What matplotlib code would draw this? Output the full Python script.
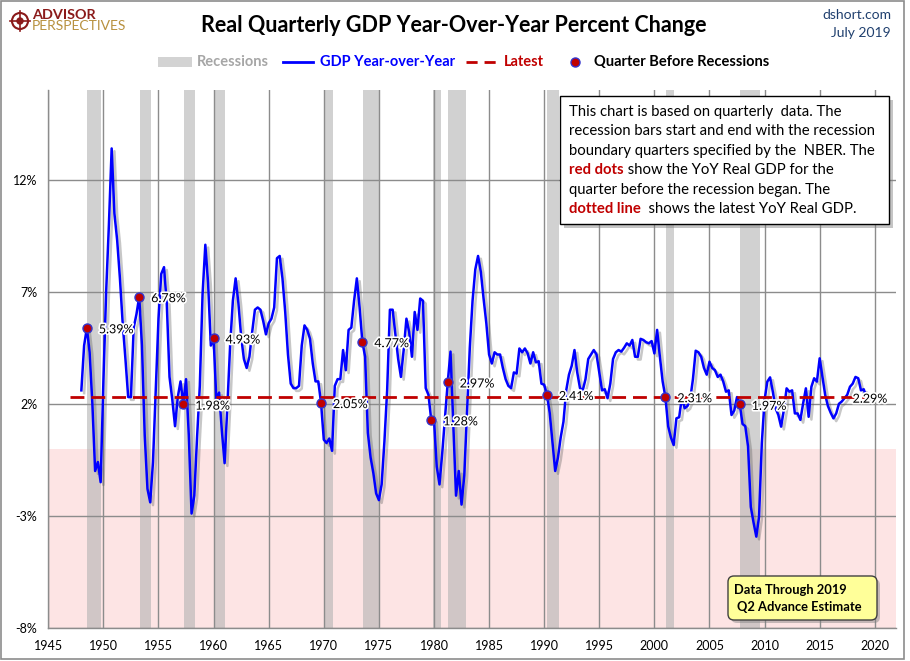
import matplotlib
matplotlib.use("Agg")
import matplotlib.pyplot as plt
import matplotlib.patheffects as pe
from matplotlib.patches import Rectangle, FancyBboxPatch, Circle

plt.rcParams['font.family'] = ['Lato', 'DejaVu Sans']

# ---------------- data ----------------
first_year = 1948
gdp_yoy = [
    2.6, 4.6, 5.39, 4.3,      # 1948
    2.0, -1.0, -0.6, -1.5,    # 1949
    3.0, 7.0, 10.0, 13.4,     # 1950
    10.5, 9.3, 7.6, 5.6,      # 1951
    4.0, 2.3, 2.3, 5.4,       # 1952
    6.0, 6.78, 4.6, 0.6,      # 1953
    -1.8, -2.4, -0.6, 2.6,    # 1954
    5.8, 7.8, 8.1, 6.5,       # 1955
    3.2, 2.2, 1.0, 2.3,       # 1956
    3.0, 1.98, 3.1, 0.6,      # 1957
    -2.9, -2.1, 0.5, 2.8,     # 1958
    6.9, 9.1, 7.4, 4.6,       # 1959
    4.93, 2.2, 2.5, 0.8,      # 1960
    -0.65, 1.9, 4.6, 6.6,     # 1961
    7.6, 6.5, 5.0, 4.0,       # 1962
    3.6, 4.1, 5.2, 6.2,       # 1963
    6.3, 6.2, 5.7, 5.1,       # 1964
    5.6, 5.8, 6.3, 8.5,       # 1965
    8.6, 7.6, 6.1, 4.2,       # 1966
    2.9, 2.7, 2.7, 2.8,       # 1967
    4.6, 5.5, 5.3, 4.9,       # 1968
    3.8, 3.0, 3.0, 2.05,      # 1969
    0.4, 0.25, 0.45, -0.1,    # 1970
    2.8, 3.1, 3.1, 4.4,       # 1971
    3.5, 5.3, 5.4, 6.6,       # 1972
    7.6, 6.3, 4.77, 4.1,      # 1973
    0.7, -0.4, -1.1, -2.0,    # 1974
    -2.3, -1.6, 0.3, 2.6,     # 1975
    6.2, 6.2, 5.1, 4.0,       # 1976
    3.2, 4.4, 5.8, 5.2,       # 1977
    4.1, 6.1, 5.3, 6.7,       # 1978
    6.6, 2.7, 2.4, 1.28,      # 1979
    1.3, -0.8, -1.6, -0.2,    # 1980
    1.4, 2.97, 4.33, 1.1,     # 1981
    -2.1, -1.0, -2.5, -1.2,   # 1982
    1.6, 4.5, 6.6, 8.0,       # 1983
    8.6, 7.9, 6.7, 5.6,       # 1984
    4.2, 3.8, 4.3, 4.2,       # 1985
    4.2, 3.6, 3.1, 2.8,       # 1986
    2.7, 3.4, 3.35, 4.47,     # 1987
    4.3, 4.47, 4.25, 3.8,     # 1988
    4.3, 3.85, 3.9, 2.9,      # 1989
    2.85, 2.41, 1.6, 0.3,     # 1990
    -1.0, -0.4, 0.5, 1.2,     # 1991
    2.6, 3.3, 3.7, 4.4,       # 1992
    3.4, 2.7, 2.6, 3.1,       # 1993
    4.0, 4.2, 4.4, 4.2,       # 1994
    3.4, 2.6, 2.65, 2.25,     # 1995
    2.9, 4.0, 4.3, 4.4,       # 1996
    4.33, 4.5, 4.7, 4.6,      # 1997
    4.85, 4.1, 4.1, 4.9,      # 1998
    4.85, 4.75, 4.7, 4.8,     # 1999
    4.25, 5.3, 4.1, 3.0,      # 2000
    2.31, 1.0, 0.5, 0.16,     # 2001
    1.35, 1.4, 2.3, 1.8,      # 2002
    1.9, 2.2, 3.1, 4.37,      # 2003
    4.3, 4.1, 3.6, 3.3,       # 2004
    3.88, 3.6, 3.5, 3.2,      # 2005
    3.3, 2.99, 2.54, 2.6,     # 2006
    1.5, 1.7, 2.3, 1.97,      # 2007
    1.1, 1.0, 0.1, -2.6,      # 2008
    -3.3, -3.93, -3.04, 0.24, # 2009
    2.17, 2.99, 3.18, 2.54,   # 2010
    1.8, 1.5, 0.98, 1.72,     # 2011
    2.69, 2.54, 2.6, 1.57,    # 2012
    1.57, 1.28, 2.02, 2.69,   # 2013
    1.42, 2.76, 3.14, 2.99,   # 2014
    4.03, 3.2, 2.4, 1.9,      # 2015
    1.6, 1.35, 1.57, 2.0,     # 2016
    2.1, 2.25, 2.4, 2.76,     # 2017
    2.9, 3.2, 3.14, 2.6,      # 2018
    2.65, 2.29,               # 2019
]
quarter_labels = [f"{first_year + i // 4}Q{i % 4 + 1}" for i in range(len(gdp_yoy))]

dot_quarters = ['1948Q3', '1953Q2', '1957Q2', '1960Q1', '1969Q4', '1973Q3',
                '1979Q4', '1981Q2', '1990Q2', '2001Q1', '2007Q4']
dot_values = [5.39, 6.78, 1.98, 4.93, 2.05, 4.77, 1.28, 2.97, 2.41, 2.31, 1.97]

rec_start = [1948.52, 1953.34, 1957.34, 1960.04, 1970.0, 1973.6, 1979.94, 1981.3, 1990.3, 2001.03, 2007.78]
rec_end = [1949.79, 1954.34, 1958.34, 1961.06, 1970.85, 1975.0, 1980.67, 1982.93, 1991.3, 2001.75, 2009.55]

latest_value = 2.29
latest_start = 1947.0

y_ticks = [-8, -3, 2, 7, 12]
y_tick_labels = ['-8%', '-3%', '2%', '7%', '12%']
x_ticks = list(range(1945, 2021, 5))
x_tick_labels = [str(v) for v in x_ticks]


def q2t(q):
    y, k = q.split('Q')
    return int(y) + (int(k) - 1) / 4.0


t = [q2t(q) for q in quarter_labels]
dot_t = [q2t(q) for q in dot_quarters]

# ---------------- figure ----------------
W, H = 910, 661
fig = plt.figure(figsize=(W / 100, H / 100), dpi=100)
fig.patch.set_facecolor('white')

L, R, T, B = 48.3, 895.7, 90.2, 627.8
ax = fig.add_axes([L / W, (H - B) / H, (R - L) / W, (B - T) / H])
ax.set_xlim(1945, 2021.9)
ax.set_ylim(-8, 16)
ax.set_facecolor('white')

ax.axhspan(-8, 0, color='#FDE4E4', lw=0, zorder=0.5)
for s, e in zip(rec_start, rec_end):
    ax.axvspan(s, e, color=(0.70, 0.70, 0.70), alpha=0.6, lw=0, zorder=1)

ax.set_axisbelow('line')
ax.grid(True, color='#8C8C8C', lw=1)
ax.set_yticks(y_ticks)
ax.set_yticklabels(y_tick_labels)
ax.set_xticks(x_ticks)
ax.set_xticklabels(x_tick_labels)
ax.tick_params(length=0, labelsize=9, colors='black', pad=8)
ax.tick_params(axis='x', pad=9)
for sp in ['top', 'right']:
    ax.spines[sp].set_visible(False)
for sp in ['left', 'bottom']:
    ax.spines[sp].set_color('#8C8C8C')
    ax.spines[sp].set_linewidth(1)

ax.plot(t, gdp_yoy, color='#0000FF', lw=1.8, zorder=3,
        path_effects=[pe.SimpleLineShadow(offset=(2, -2), shadow_color='#606060', alpha=0.35),
                      pe.Normal()])

ax.plot([latest_start, t[-1]], [latest_value, latest_value], color='#C00000', lw=2.0,
        dashes=(5, 2.5), zorder=4)

ax.plot(dot_t, dot_values, ls='none', marker='o', ms=6.5, mfc='#C00000', mec='#3333CC',
        mew=1, zorder=5)

halo = [pe.withStroke(linewidth=2.5, foreground='white')]
for x, v in zip(dot_t, dot_values):
    ax.annotate(f"{v:.2f}%", (x, v), xytext=(8.6, -1), textcoords='offset points',
                ha='left', va='center', fontsize=9, color='black', zorder=6,
                path_effects=halo)
ax.annotate(f"{latest_value:.2f}%", (t[-1], latest_value), xytext=(-10, -1),
            textcoords='offset points', ha='left', va='center', fontsize=9,
            color='black', zorder=6, path_effects=halo)

# ---------------- overlay (pixel coords) ----------------
ov = fig.add_axes([0, 0, 1, 1])
ov.set_xlim(0, W)
ov.set_ylim(H, 0)
ov.axis('off')
ov.patch.set_alpha(0)
ov.set_zorder(10)

renderer = fig.canvas.get_renderer()


def fit(txt, width):
    w = txt.get_window_extent(renderer).width
    txt.set_fontsize(txt.get_fontsize() * width / w)
    return txt.get_fontsize()


# border
ov.add_patch(Rectangle((1, 1), 903, 658, fill=False, ec='#8C8C8C', lw=1.2))

# title
tt = ov.text(454, 25, 'Real Quarterly GDP Year-Over-Year Percent Change', ha='center',
             va='center', fontsize=15, fontweight='bold', color='black')
fit(tt, 508)

# dshort / date
ov.text(891, 15, 'dshort.com', ha='right', va='center', fontsize=10, color='#1F3F6E')
ov.text(891, 33, 'July 2019', ha='right', va='center', fontsize=10, color='#1F3F6E')

# logo
ov.add_patch(Circle((20, 21), 8, fill=False, ec='#8B1A1A', lw=1.5))
ov.plot([20, 20], [11, 31], color='#8B1A1A', lw=1.2)
ov.plot([10, 30], [21, 21], color='#8B1A1A', lw=1.2)
ov.add_patch(Circle((20, 21), 3, color='#8B1A1A'))
ta = ov.text(32, 15, 'ADVISOR', ha='left', va='center', fontsize=9, fontweight='bold',
             color='#8B1A1A')
fit(ta, 64)
tp = ov.text(32, 26, 'PERSPECTIVES', ha='left', va='center', fontsize=9, fontweight='normal',
             color='#B8913F')
fit(tp, 95)

# legend
ly = 62
ov.add_patch(Rectangle((158, ly - 5), 34, 10, color='#D3D3D3', lw=0))
tq = ov.text(594, ly, 'Quarter Before Recessions', ha='left', va='center', fontsize=10,
             fontweight='bold', color='black')
lfs = fit(tq, 176)
ov.text(197, ly, 'Recessions', ha='left', va='center', fontsize=lfs, fontweight='bold',
        color='#A6A6A6')
ov.plot([283, 313], [ly, ly], color='#0000FF', lw=2)
ov.text(320, ly, 'GDP Year-over-Year', ha='left', va='center', fontsize=lfs,
        fontweight='bold', color='#0000FF')
ov.plot([466, 500], [ly, ly], color='#C00000', lw=2, dashes=(4, 2.5))
ov.text(504, ly, 'Latest', ha='left', va='center', fontsize=lfs, fontweight='bold',
        color='#C00000')
ov.plot([575], [ly], marker='o', ms=6.5, mfc='#C00000', mec='#3333CC', mew=1)

# explanation box
ov.add_patch(Rectangle((564, 100), 329, 128, color='#808080', alpha=0.45, lw=0))
ov.add_patch(Rectangle((560, 96), 329, 128, fc='white', ec='black', lw=1))
lines = [
    [('This chart is based on quarterly  data. The', False)],
    [('recession bars start and end with the recession', False)],
    [('boundary quarters specified by the  NBER. The', False)],
    [('red dots', True), (' show the YoY Real GDP for the', False)],
    [('quarter before the recession began. The', False)],
    [('dotted line', True), ('  shows the latest YoY Real GDP.', False)],
]
ref = ov.text(569, 131.7, lines[1][0][0], ha='left', va='center', fontsize=10, color='black')
bfs = fit(ref, 306)
ref.remove()
ys = [111.7, 131.2, 150.7, 170.2, 189.7, 209.2]
for yy, segs in zip(ys, lines):
    x = 569
    for s, bold in segs:
        tx = ov.text(x, yy, s, ha='left', va='center', fontsize=bfs,
                     fontweight='bold' if bold else 'normal',
                     color='#C00000' if bold else 'black')
        x += tx.get_window_extent(renderer).width

# data-through box
ov.add_patch(FancyBboxPatch((731, 579), 149, 44, boxstyle='round,pad=0,rounding_size=6',
                            color='#808080', alpha=0.45, lw=0))
ov.add_patch(FancyBboxPatch((728, 576), 149, 44, boxstyle='round,pad=0,rounding_size=6',
                            fc='#FFFF99', ec='#404040', lw=1))
td = ov.text(734, 590, 'Data Through 2019', ha='left', va='center', fontsize=9,
             fontweight='bold', color='black')
dfs = fit(td, 113)
ov.text(737, 607, 'Q2 Advance Estimate', ha='left', va='center', fontsize=dfs,
        fontweight='bold', color='black')

fig.savefig('out.png', dpi=100)
